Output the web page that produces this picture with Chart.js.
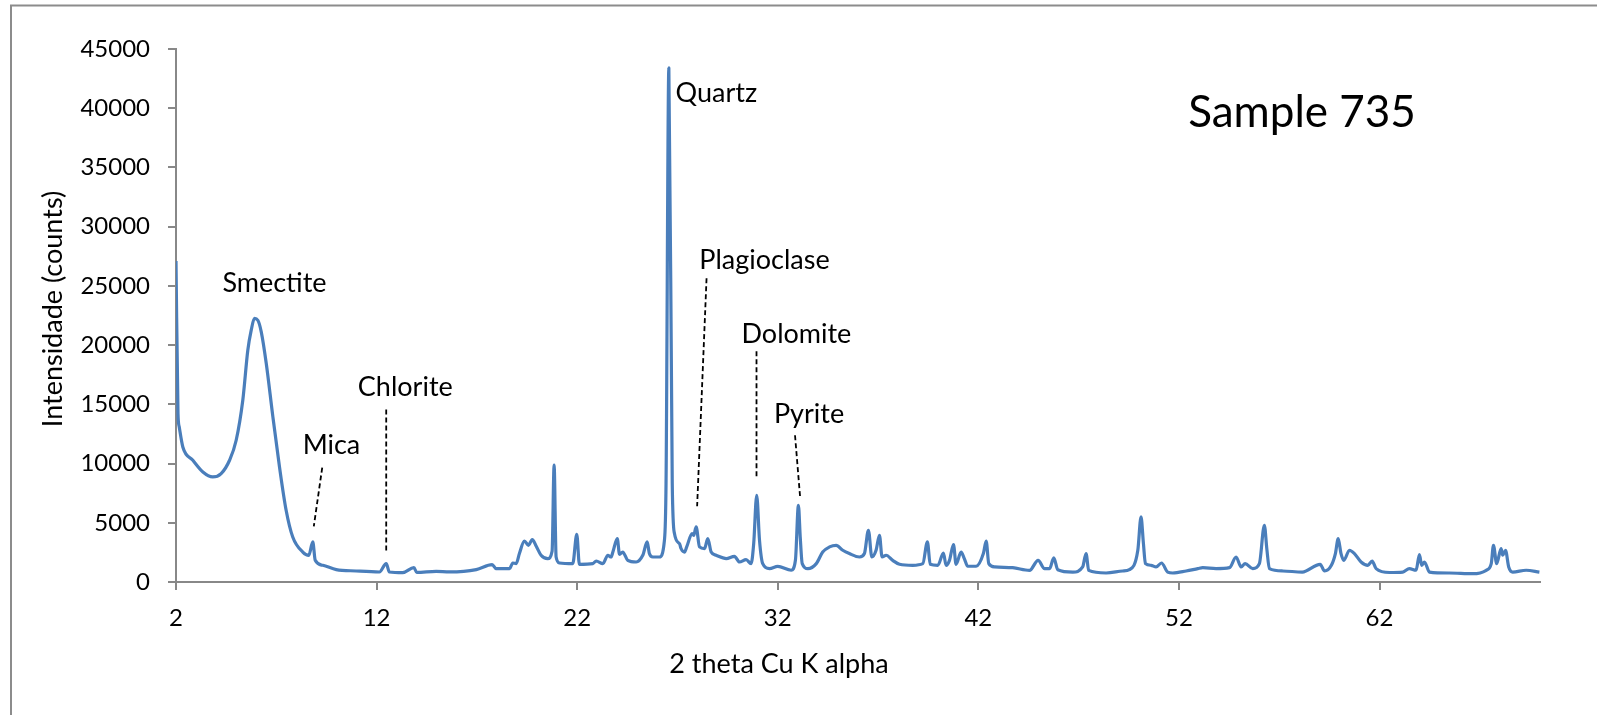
<!DOCTYPE html>
<html>
<head>
<meta charset="utf-8">
<title>Sample 735</title>
<script src="https://cdn.jsdelivr.net/npm/chart.js@4/dist/chart.umd.min.js"></script>
<style>
  html, body { margin: 0; padding: 0; background: #fff; }
  #wrap { width: 1597px; height: 715px; position: relative; }
</style>
</head>
<body>
<div id="wrap"><canvas id="xrdChart" width="1597" height="715"></canvas></div>
<script>
// XRD pattern, sample 735
const twoTheta = [
  2.00, 2.10, 2.16, 2.34, 2.84, 3.34, 3.83, 4.25, 4.67, 5.00,
  5.33, 5.58, 5.75, 5.91, 6.08, 6.25, 6.50, 6.83, 7.16, 7.49,
  7.82, 8.32, 8.62, 8.82, 8.94, 9.32, 9.99, 10.98, 12.14, 12.48,
  12.64, 13.30, 13.86, 14.00, 14.97, 15.63, 16.97, 17.76, 17.96, 18.63,
  18.79, 18.96, 19.12, 19.37, 19.57, 19.76, 19.96, 20.20, 20.53, 20.75,
  20.85, 20.95, 21.12, 21.78, 21.98, 22.11, 22.78, 22.95, 23.28, 23.53,
  23.69, 23.78, 24.00, 24.11, 24.27, 24.52, 24.94, 25.27, 25.49, 25.60,
  25.77, 26.10, 26.35, 26.43, 26.57, 26.74, 26.85, 27.10, 27.18, 27.35,
  27.46, 27.73, 27.81, 27.93, 28.10, 28.35, 28.51, 28.68, 28.93, 29.43,
  29.84, 30.09, 30.42, 30.67, 30.80, 30.95, 31.09, 31.25, 31.59, 32.00,
  32.67, 32.88, 33.03, 33.12, 33.22, 33.50, 33.92, 34.24, 34.58, 34.91,
  35.24, 35.57, 36.07, 36.32, 36.52, 36.69, 36.90, 37.07, 37.20, 37.40,
  37.73, 38.07, 38.73, 39.23, 39.46, 39.60, 39.98, 40.26, 40.39, 40.56,
  40.76, 40.89, 41.14, 41.30, 41.47, 41.89, 42.25, 42.39, 42.52, 42.82,
  43.71, 44.55, 44.98, 45.30, 45.55, 45.76, 45.96, 46.71, 47.20, 47.37,
  47.50, 48.37, 49.20, 49.53, 49.95, 50.11, 50.23, 50.33, 50.61, 50.86,
  51.13, 51.44, 51.69, 52.36, 52.94, 53.19, 53.85, 54.52, 54.85, 55.10,
  55.30, 55.68, 56.01, 56.26, 56.38, 56.51, 57.18, 58.15, 59.04, 59.26,
  59.60, 59.80, 59.94, 60.08, 60.22, 60.50, 60.75, 61.08, 61.42, 61.63,
  61.83, 62.50, 63.16, 63.49, 63.82, 63.99, 64.10, 64.24, 64.49, 65.49,
  66.65, 67.32, 67.57, 67.68, 67.84, 68.06, 68.14, 68.28, 68.44, 68.64,
  69.31, 69.97
];
const counts = [
  27100, 14200, 13100, 11400, 10280, 9290, 8870, 9155, 10280, 11970,
  15350, 19570, 21260, 22250, 22100, 21120, 18450, 13940, 9710, 6060,
  3800, 2530, 2255, 3380, 1830, 1410, 1050, 930, 845, 1550,
  845, 790, 1215, 810, 900, 850, 1050, 1470, 1130, 1130,
  1605, 1550, 2400, 3460, 3100, 3580, 3015, 2255, 1975, 2600,
  9860, 2110, 1605, 1550, 4030, 1495, 1550, 1775, 1550, 2255,
  2110, 2530, 3660, 2340, 2530, 1830, 1690, 2255, 3380, 2400,
  2110, 2110, 3520, 8310, 43400, 8310, 4090, 3240, 2820, 2530,
  2960, 4090, 3940, 4650, 2960, 2820, 3660, 2530, 2255, 1975,
  2170, 1690, 1890, 1550, 3240, 7320, 3520, 1550, 1130, 1320,
  990, 1830, 6480, 3800, 1550, 1130, 1550, 2530, 2960, 3100,
  2680, 2400, 2110, 2400, 4370, 2110, 2680, 3940, 2110, 2260,
  1830, 1495, 1410, 1550, 3380, 1495, 1410, 2450, 1410, 1830,
  3160, 1495, 2530, 1970, 1330, 1330, 2400, 3460, 1550, 1270,
  1210, 980, 1830, 1130, 1130, 2030, 1040, 840, 1270, 2400,
  980, 760, 930, 1040, 2680, 5490, 3240, 1550, 1410, 1270,
  1605, 840, 760, 930, 1130, 1210, 1130, 1210, 2110, 1270,
  1550, 1130, 1550, 4790, 2820, 1130, 930, 840, 1495, 930,
  1410, 2400, 3660, 2400, 1830, 2680, 2400, 1690, 1410, 1775,
  1130, 800, 840, 1130, 990, 2310, 1410, 1690, 840, 760,
  700, 990, 1550, 3100, 1550, 2820, 2260, 2680, 1270, 840,
  990, 840
];
const xTicks = [2, 12, 22, 32, 42, 52, 62];
const yTicks = [0, 5000, 10000, 15000, 20000, 25000, 30000, 35000, 40000, 45000];

// mineral names shown on the pattern
const minerals = ['Smectite', 'Mica', 'Chlorite', 'Quartz', 'Plagioclase', 'Dolomite', 'Pyrite'];

// where each name sits (2θ, counts) and its dashed leader (x1, y1, x2, y2)
const labelAt = [
  [6.91, 25250], [9.75, 11550], [13.43, 16440], [28.94, 41300],
  [31.34, 27170], [32.93, 20920], [33.56, 14120]
];
const leaders = [
  null,
  [9.29, 9660, 8.87, 4700],
  [12.48, 14560, 12.48, 2400],
  null,
  [28.45, 25650, 27.98, 6390],
  [30.94, 19490, 30.94, 8670],
  [32.86, 12390, 33.12, 7040]
];

const FONT = 'Lato, "Open Sans", sans-serif';
const AXIS_GREY = '#888888';

const frameAndText = {
  id: 'frameAndText',
  beforeDraw(chart) {
    const c = chart.ctx;
    c.save();
    c.fillStyle = '#fff';
    c.fillRect(0, 0, chart.width, chart.height);
    c.strokeStyle = '#8c8c8c';
    c.lineWidth = 2;
    c.strokeRect(11, 5.5, chart.width + 40, chart.height + 40);
    c.restore();
  },
  afterDatasetsDraw(chart) {
    const c = chart.ctx;
    const xs = chart.scales.x, ys = chart.scales.y;
    c.save();
    c.fillStyle = '#000';
    c.textAlign = 'center';
    c.textBaseline = 'middle';

    // mineral labels with dashed leaders
    c.font = '27px ' + FONT;
    minerals.forEach((name, i) => {
      const [lx, ly] = labelAt[i];
      c.fillText(name, xs.getPixelForValue(lx), ys.getPixelForValue(ly));
      const ln = leaders[i];
      if (!ln) return;
      c.beginPath();
      c.setLineDash([5, 3]);
      c.lineWidth = 1.8;
      c.strokeStyle = '#000';
      c.moveTo(xs.getPixelForValue(ln[0]), ys.getPixelForValue(ln[1]));
      c.lineTo(xs.getPixelForValue(ln[2]), ys.getPixelForValue(ln[3]));
      c.stroke();
    });
    c.setLineDash([]);

    // sample name
    c.font = '44px ' + FONT;
    c.fillText('Sample 735', 1302, 113);

    // axis titles
    c.font = '27px ' + FONT;
    c.fillText('2 theta Cu K alpha', 779, 664);
    c.translate(53, 309);
    c.rotate(-Math.PI / 2);
    c.fillText('Intensidade (counts)', 0, 0);
    c.restore();
  }
};

new Chart(document.getElementById('xrdChart'), {
  type: 'line',
  data: {
    datasets: [{
      label: 'Sample 735',
      data: twoTheta.map((t, i) => ({ x: t, y: counts[i] })),
      borderColor: '#4a7ebb',
      borderWidth: 3.2,
      borderJoinStyle: 'round',
      pointRadius: 0,
      cubicInterpolationMode: 'monotone',
      fill: false
    }]
  },
  options: {
    responsive: false,
    animation: false,
    layout: { padding: { left: 0, right: 57, top: 49, bottom: 0 } },
    plugins: {
      legend: { display: false },
      tooltip: { enabled: false }
    },
    scales: {
      x: {
        type: 'linear',
        min: 2,
        max: 70,
        afterBuildTicks: s => { s.ticks = xTicks.map(v => ({ value: v })); },
        afterFit: s => { s.height = 133; },
        border: { color: AXIS_GREY, width: 2 },
        grid: { drawOnChartArea: false, drawTicks: true, tickLength: 8, color: AXIS_GREY, lineWidth: 2 },
        ticks: { color: '#000', font: { family: FONT, size: 24 }, padding: 14, maxRotation: 0, callback: v => String(v) }
      },
      y: {
        min: 0,
        max: 45000,
        afterBuildTicks: s => { s.ticks = yTicks.map(v => ({ value: v })); },
        afterFit: s => { s.width = 176; },
        border: { color: AXIS_GREY, width: 2 },
        grid: { drawOnChartArea: false, drawTicks: true, tickLength: 8, color: AXIS_GREY, lineWidth: 2 },
        ticks: { color: '#000', font: { family: FONT, size: 24 }, padding: 18, callback: v => String(v) }
      }
    }
  },
  plugins: [frameAndText]
});
</script>
</body>
</html>
